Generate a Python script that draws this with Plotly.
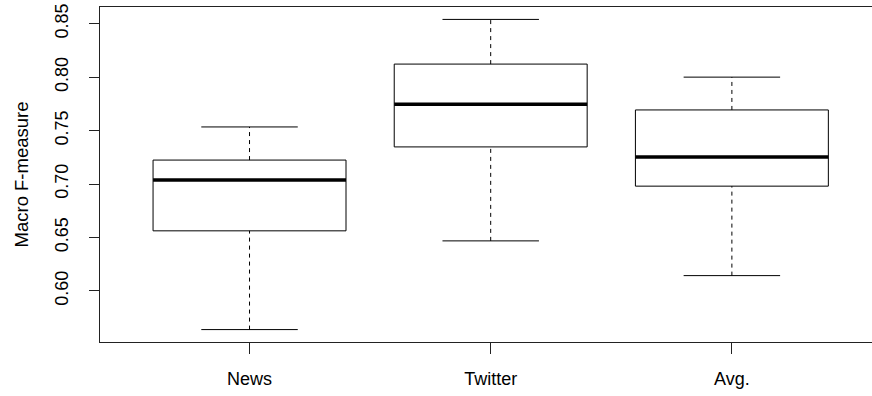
import plotly.graph_objects as go

categories = ["News", "Twitter", "Avg."]
lower_whisker = [0.5638, 0.6468, 0.6143]
q1 = [0.6562, 0.7347, 0.6980]
median = [0.7037, 0.7747, 0.7252]
q3 = [0.7224, 0.8122, 0.7693]
upper_whisker = [0.7534, 0.8540, 0.8000]
y_ticks = [0.60, 0.65, 0.70, 0.75, 0.80, 0.85]

BOXW = 0.4   # half box width (R boxwex 0.8)
CAPW = 0.2   # half staple width

xs = list(range(1, len(categories) + 1))

fig = go.Figure()

def add_seg(xx, yy, width=1, dash=None):
    fig.add_trace(go.Scatter(x=xx, y=yy, mode="lines",
                             line=dict(color="black", width=width, dash=dash),
                             hoverinfo="skip", showlegend=False))

for i, x in enumerate(xs):
    add_seg([x, x], [q3[i], upper_whisker[i]], 1, "4px,4px")
    add_seg([x, x], [lower_whisker[i], q1[i]], 1, "4px,4px")
    add_seg([x - CAPW, x + CAPW], [upper_whisker[i]] * 2, 1)
    add_seg([x - CAPW, x + CAPW], [lower_whisker[i]] * 2, 1)
    add_seg([x - BOXW, x + BOXW, x + BOXW, x - BOXW, x - BOXW],
            [q1[i], q1[i], q3[i], q3[i], q1[i]], 1)
    add_seg([x - BOXW, x + BOXW], [median[i]] * 2, 3.5)

lo = min(lower_whisker)
hi = max(upper_whisker)
span = hi - lo
yr = [lo - 0.04 * span, hi + 0.04 * span]

font = dict(family="Liberation Sans, Arial, sans-serif", size=18, color="black")

fig.update_layout(
    width=872, height=396,
    margin=dict(l=100, r=0, t=7, b=54, autoexpand=False),
    paper_bgcolor="white", plot_bgcolor="white",
    font=font,
    xaxis=dict(range=[0.38, 3.581], tickvals=xs, ticktext=categories,
               automargin=False,
               showgrid=False, zeroline=False, showline=True, mirror=True,
               linecolor="#222", linewidth=1,
               ticks="outside", ticklen=11, tickcolor="#222",
               ticklabelstandoff=9),
    yaxis=dict(range=yr, tickvals=y_ticks,
               ticktext=[f"{v:.2f}" for v in y_ticks],
               tickangle=-90, automargin=False,
               showgrid=False, zeroline=False, showline=True, mirror=False,
               linecolor="#222", linewidth=1,
               ticks="outside", ticklen=10, tickcolor="#222",
               ticklabelstandoff=14,
               title=dict(text="Macro F-measure", standoff=18,
                          font=dict(size=18.5))),
)

fig.write_html("out.html", config={"displayModeBar": False})
with open("out.html", "r", encoding="utf-8") as f:
    html = f.read()
html = html.replace("<head>", "<head><style>html,body{margin:0;padding:0;overflow:hidden;}</style>", 1)
with open("out.html", "w", encoding="utf-8") as f:
    f.write(html)
